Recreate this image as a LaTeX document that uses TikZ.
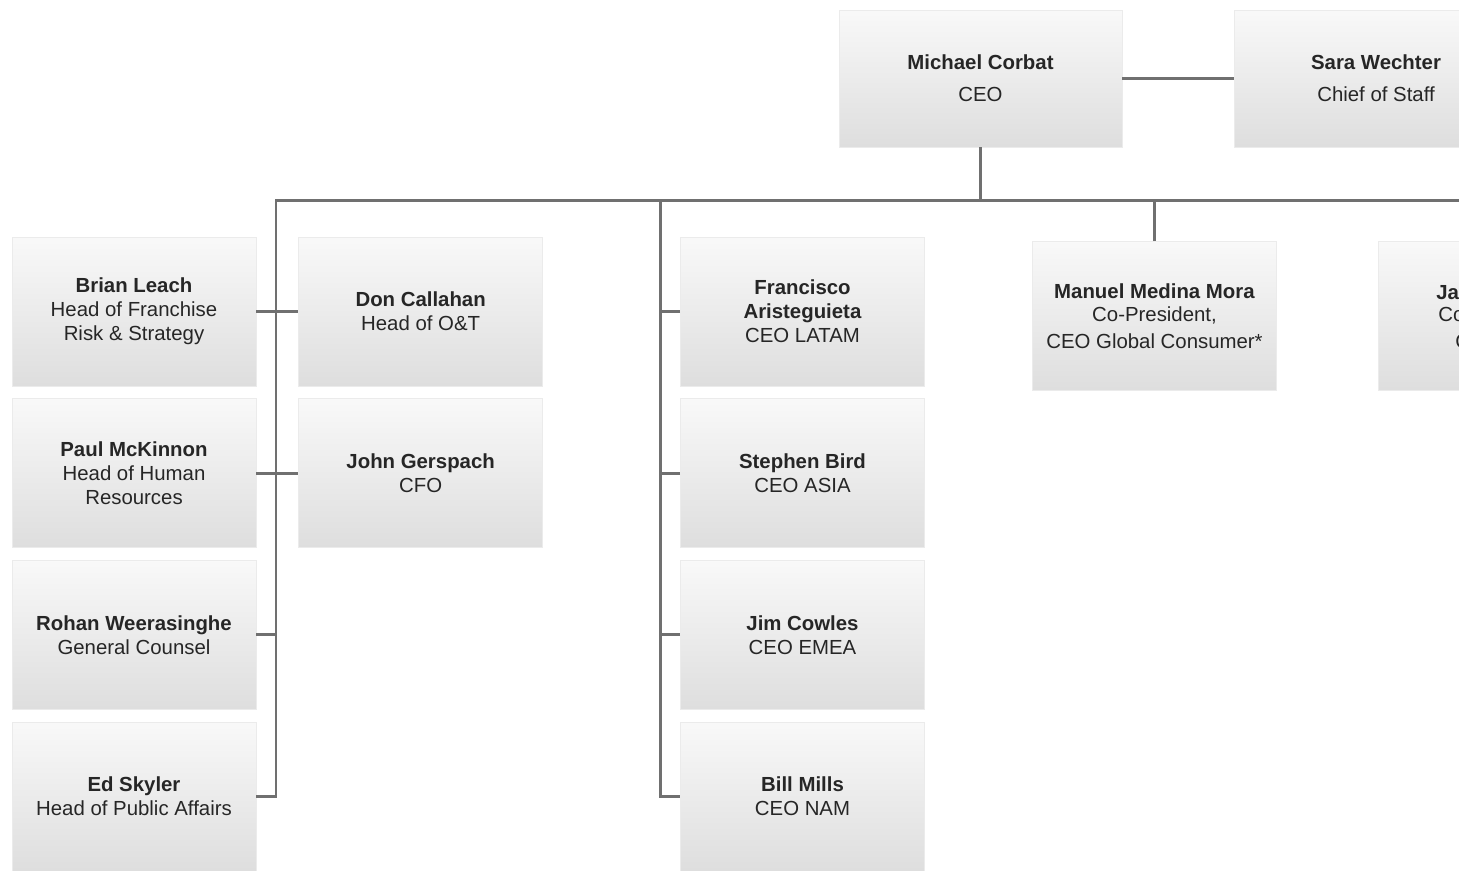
\documentclass[tikz,border=0pt]{standalone}
\usepackage{fontspec}
\setmainfont{Liberation Sans}
\usetikzlibrary{positioning}
\definecolor{linkgray}{HTML}{707070}
\definecolor{inkgray}{HTML}{262626}
\begin{document}
\begin{tikzpicture}[x=0.02cm, y=-0.02cm, node distance=0.24cm,
  member/.style={rectangle, draw=gray!16, top color=gray!5, bottom color=gray!26, minimum width=4.88cm, minimum height=2.98cm, align=center, text=inkgray, inner sep=2pt, font=\fontsize{11.6}{13.6}\selectfont},
  chief/.style={member, minimum width=5.66cm, minimum height=2.74cm},
  link/.style={draw=linkgray, line width=1.7pt}]
\useasboundingbox (0,0) rectangle (1459,870);
\clip (0,0) rectangle (1459,870);
\fill[white] (0,0) rectangle (1459,870);

% top row
\node[chief] (corbat) at (980.5,78.5) {\textbf{Michael Corbat}\\[4.5pt]CEO};
\node[chief] (wechter) at (1376,78.5) {\textbf{Sara Wechter}\\[4.5pt]Chief of Staff};

% staff, left
\node[member] (leach) at (134,311.5) {\textbf{Brian Leach}\\Head of Franchise\\Risk \& Strategy};
\node[member, below=of leach] (mckinnon) {\textbf{Paul McKinnon}\\Head of Human\\Resources};
\node[member, below=of mckinnon] (weerasinghe) {\textbf{Rohan Weerasinghe}\\General Counsel};
\node[member, below=of weerasinghe] (skyler) {\textbf{Ed Skyler}\\Head of Public Affairs};
\node[member, right=0.84cm of leach] (callahan) {\textbf{Don Callahan}\\Head of O\&T};
\node[member, below=of callahan] (gerspach) {\textbf{John Gerspach}\\CFO};

% regions
\node[member] (aristeguieta) at (802.5,311.5) {\textbf{Francisco}\\\textbf{Aristeguieta}\\CEO LATAM};
\node[member, below=of aristeguieta] (bird) {\textbf{Stephen Bird}\\CEO ASIA};
\node[member, below=of bird] (cowles) {\textbf{Jim Cowles}\\CEO EMEA};
\node[member, below=of cowles] (mills) {\textbf{Bill Mills}\\CEO NAM};

% businesses
\node[member] (medina) at (1154.5,316) {\textbf{Manuel Medina Mora}\\Co-President,\\[1.5pt]CEO Global Consumer*};
\node[member] (forese) at (1500.5,316) {};
\node[anchor=west, align=left, text=inkgray, inner sep=0pt, font=\fontsize{11.6}{13.6}\selectfont] (foresetext) at (1436,317) {\textbf{Ja}\\[-1pt]\hspace{0.04cm}Co\\[1.5pt]\hspace{0.38cm}C};

% lines
\coordinate (busL) at (276,200);
\coordinate (busM) at (660,200);
\coordinate (busR) at (1470,200);
\draw[link] (corbat) -- (wechter);
\draw[link] (corbat.south) -- (corbat.south |- busL);
\draw[link] (busR) -- (busL) |- (skyler.east);
\draw[link] (leach) -- (callahan);
\draw[link] (mckinnon) -- (gerspach);
\draw[link] (weerasinghe.east) -- (busL |- weerasinghe.east);
\draw[link] (busM) |- (mills.west);
\draw[link] (aristeguieta.west) -- (busM |- aristeguieta.west);
\draw[link] (bird.west) -- (busM |- bird.west);
\draw[link] (cowles.west) -- (busM |- cowles.west);
\draw[link] (medina.north) -- (medina.north |- busL);
\end{tikzpicture}
\end{document}
